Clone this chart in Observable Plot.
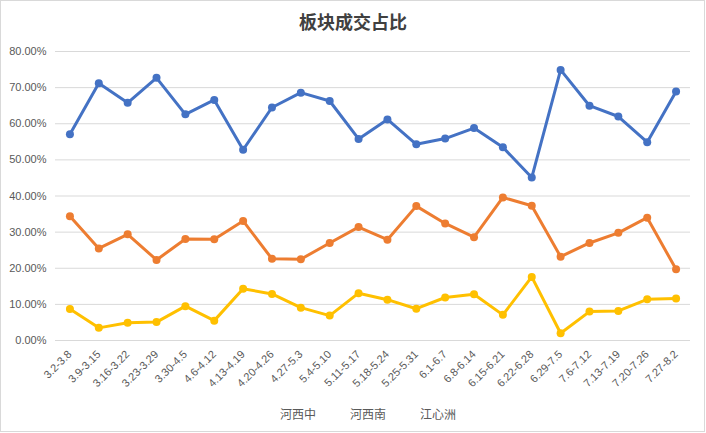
<!DOCTYPE html>
<html><head><meta charset="utf-8">
<script src="https://cdn.jsdelivr.net/npm/d3@7"></script>
<script src="https://cdn.jsdelivr.net/npm/@observablehq/plot@0.6"></script>
<style>
body{margin:0;background:#fff;width:706px;height:433px;position:relative;overflow:hidden;font-family:"Liberation Sans","Noto Sans CJK SC",sans-serif;}
#frame{position:absolute;left:0;top:0;width:705px;height:432px;box-sizing:border-box;border:1px solid #d9d9d9;pointer-events:none;}
#title{position:absolute;left:0;top:9px;width:706px;text-align:center;font-size:18px;font-weight:bold;line-height:24px;color:#404040;font-family:"Noto Sans CJK SC",sans-serif;}
#chart{position:absolute;left:0;top:36px;}
#legend{position:absolute;left:280px;top:405px;width:180px;display:flex;gap:34px;font-size:12px;line-height:18px;color:#595959;font-family:"Noto Sans CJK SC",sans-serif;}
</style></head>
<body>
<div id="title">板块成交占比</div>
<div id="chart"></div>
<div id="legend"></div>
<div id="frame"></div>
<script>
const categories = ["3.2-3.8","3.9-3.15","3.16-3.22","3.23-3.29","3.30-4.5","4.6-4.12","4.13-4.19","4.20-4.26","4.27-5.3","5.4-5.10","5.11-5.17","5.18-5.24","5.25-5.31","6.1-6.7","6.8-6.14","6.15-6.21","6.22-6.28","6.29-7.5","7.6-7.12","7.13-7.19","7.20-7.26","7.27-8.2"];
const hexiZhong = [57.1,71.2,65.8,72.7,62.6,66.6,52.8,64.5,68.6,66.3,55.8,61.2,54.3,55.9,58.8,53.5,45.1,74.9,65.0,62.0,54.9,68.9];
const hexiNan = [34.4,25.5,29.4,22.3,28.1,28.0,33.1,22.6,22.5,27.0,31.4,27.9,37.2,32.4,28.6,39.6,37.3,23.2,27.0,29.8,34.0,19.7];
const jiangxinzhou = [8.7,3.5,4.9,5.1,9.5,5.5,14.3,12.9,9.1,6.9,13.1,11.3,8.8,11.9,12.8,7.1,17.6,2.0,8.0,8.2,11.4,11.6];
const seriesNames = ["河西中","河西南","江心洲"];
const seriesColors = ["#4472C4","#ED7D31","#FFC000"];
const yTicks = [0,10,20,30,40,50,60,70,80];

const seriesValues = [hexiZhong, hexiNan, jiangxinzhou];
const rows = [];
seriesNames.forEach((s, i) => categories.forEach((c, j) => rows.push({series: s, cat: c, value: seriesValues[i][j]})));

const chart = Plot.plot({
  width: 706, height: 366,
  marginTop: 15, marginBottom: 62, marginLeft: 55, marginRight: 16,
  style: {fontFamily: "'Liberation Sans', sans-serif", fontSize: "11px", color: "#595959", background: "transparent"},
  x: {type: "point", domain: categories, padding: 0.5, round: false},
  y: {domain: [0, 80]},
  color: {domain: seriesNames, range: seriesColors},
  marks: [
    Plot.ruleY(yTicks, {stroke: "#d9d9d9", strokeWidth: 1}),
    Plot.axisY({ticks: yTicks, tickFormat: d => d.toFixed(2) + "%", tickSize: 0, tickPadding: 9, fill: "#595959", label: null}),
    Plot.axisX({tickRotate: -45, tickSize: 0, tickPadding: 12, fill: "#595959", label: null}),
    Plot.line(rows, {x: "cat", y: "value", z: "series", stroke: "series", strokeWidth: 3, strokeLinejoin: "round", strokeLinecap: "round"}),
    Plot.dot(rows, {x: "cat", y: "value", fill: "series", r: 4})
  ]
});
document.getElementById("chart").appendChild(chart);

const legend = document.getElementById("legend");
seriesNames.forEach(s => { const sp = document.createElement("span"); sp.textContent = s; legend.appendChild(sp); });
</script>
</body></html>
